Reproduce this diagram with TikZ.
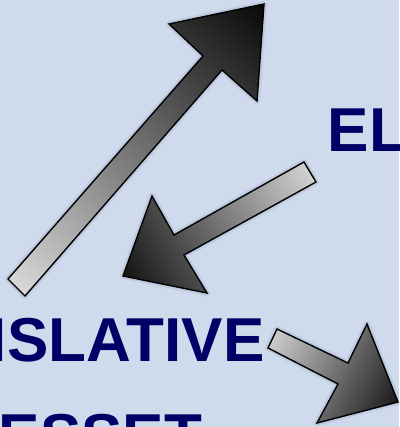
\documentclass[tikz,border=0pt]{standalone}
\usepackage{fontspec}
\setmainfont{Liberation Sans}
\definecolor{bgblue}{HTML}{CFDBED}
\definecolor{wordnavy}{HTML}{000066}
\definecolor{tailgray}{HTML}{D4D4D4}
\definecolor{halo}{HTML}{8FA0B8}
\pgfdeclareverticalshading{arrowfade}{100bp}{color(0bp)=(white); color(18bp)=(tailgray); color(88bp)=(black); color(100bp)=(black)}

\begin{document}
\begin{tikzpicture}[x=1pt,y=-1pt,
    blockarrow/.style={shade, shading=arrowfade, draw=black, line width=1.4pt,
      preaction={draw=halo, line width=7pt, draw opacity=0.12, line join=round},
      preaction={draw=halo, line width=4.5pt, draw opacity=0.2, line join=round}},
    bigword/.style={text=wordnavy, font=\fontsize{62}{74}\selectfont\bfseries, inner sep=0pt, anchor=base west}]
  \useasboundingbox (0,0) rectangle (399,427);
  \fill[bgblue] (0,0) rectangle (399,427);
  \clip (0,0) rectangle (399,427);
  % block arrows
  \draw[blockarrow, shading angle=-41] (8,279) -- (203,56) -- (169,24) -- (264,4) -- (257,101) -- (222,70) -- (25,296) -- cycle;
  \draw[blockarrow, shading angle=119] (304,162) -- (174,235) -- (152,196) -- (123,276) -- (207,293) -- (184,255) -- (316,182) -- cycle;
  \draw[blockarrow, shading angle=-117] (277,329) -- (348,363) -- (367,324) -- (398,402) -- (317,423) -- (338,384) -- (268,348) -- cycle;
  % words
  \node[bigword] (elect) at (327.5,152) {EL};
  \node[bigword] (legis) at (-10.3,361) {ISLATIVE};
  \node[bigword] (esset) at (-1.5,457) {ESSET};
\end{tikzpicture}
\end{document}
